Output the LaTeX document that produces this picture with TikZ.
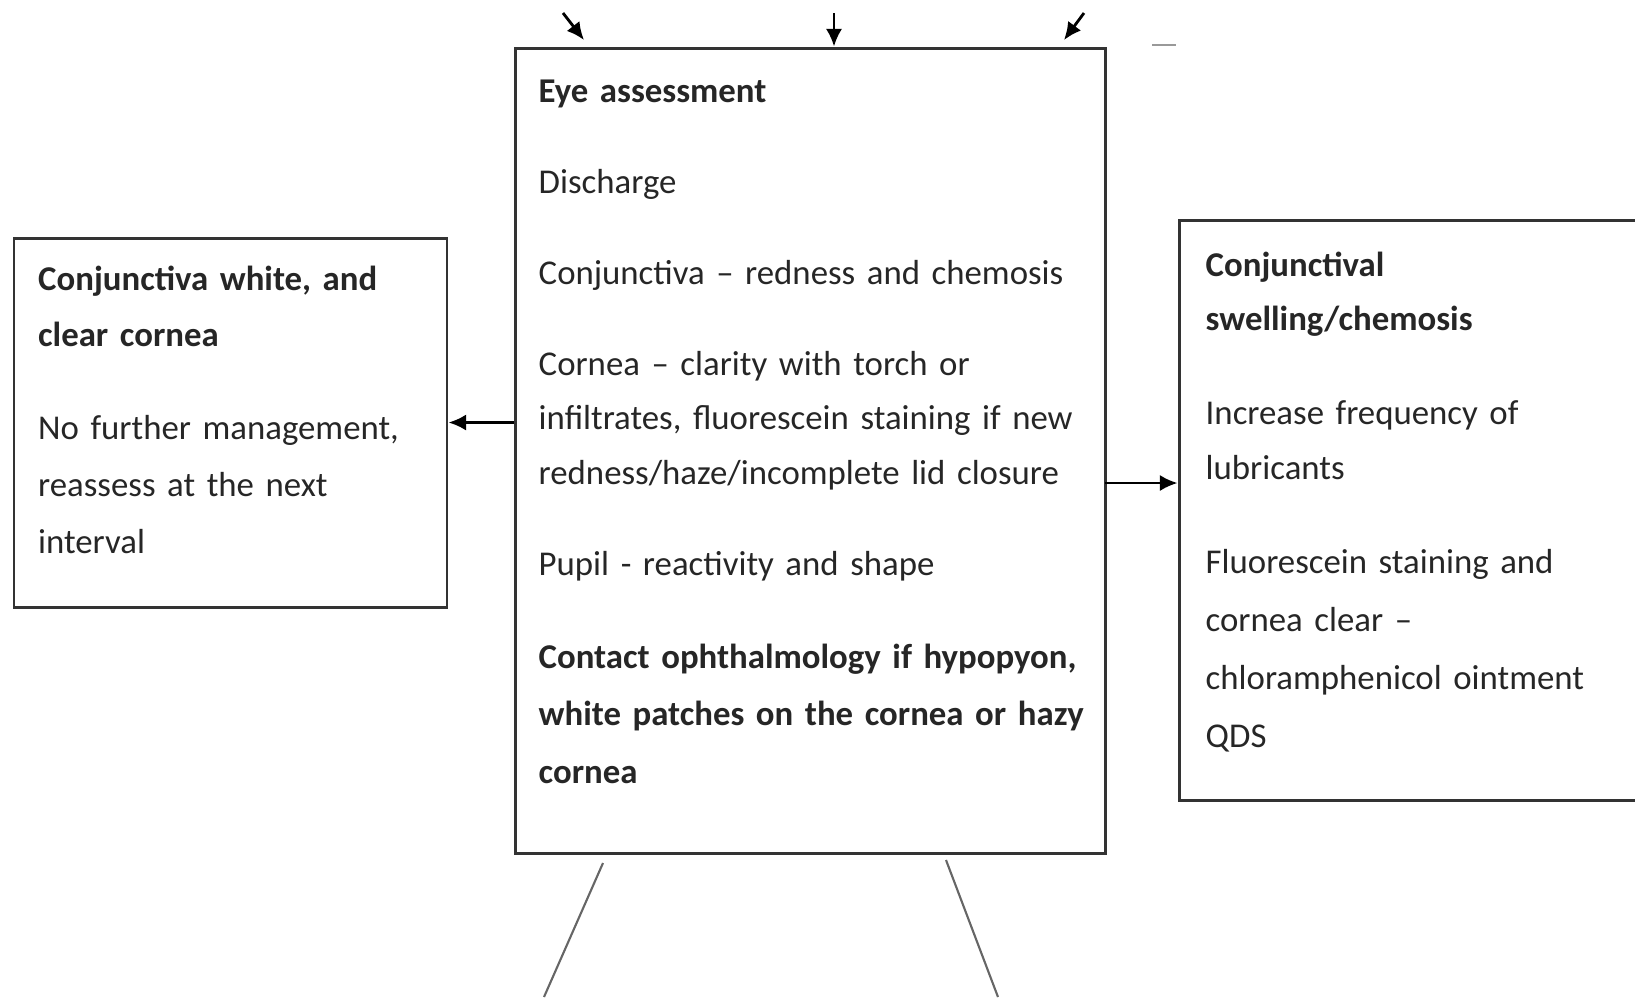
\documentclass[tikz,border=0pt]{standalone}
\usepackage{fontspec}
\setmainfont{Carlito}
\usetikzlibrary{arrows.meta}

\tikzset{
  box/.style={draw=black!80, line width=0.85pt, inner sep=0pt},
  txt/.style={anchor=base west, inner sep=0pt, text width=7cm, align=left,
    font=\fontsize{9.9pt}{15.6pt}\selectfont, text=black!85},
  arr/.style={line width=0.8pt, -{Latex[length=5pt,width=4.6pt]}},
  leg/.style={draw=black!60, line width=0.6pt},
}

\begin{document}
\begin{tikzpicture}[x=0.1mm,y=-0.1mm]
    \useasboundingbox (0,0) rectangle (1635,997);
    \clip (0,0) rectangle (1635,997);

    %boxes
    \node[box, minimum width=59mm, minimum height=80.5mm] (eye) at (810,450.5) {};
    \node[box, minimum width=43.3mm, minimum height=36.9mm] (white) at (230.5,422.5) {};
    \node[box, minimum width=51.1mm, minimum height=58mm] (swell) at (1434.5,510) {};

    %texts
    \node[txt] (eyetxt) at (538,102) {\textbf{Eye assessment}\\[10.3pt]
      Discharge\\[10.3pt]
      Conjunctiva – redness and chemosis\\[10.3pt]
      Cornea – clarity with torch or\\
      infiltrates, fluorescein staining if new\\
      redness/haze/incomplete lid closure\\[10.3pt]
      Pupil - reactivity and shape\\[10.8pt]
      \textbf{Contact ophthalmology if hypopyon,\\[0.7pt]
      white patches on the cornea or hazy\\[0.7pt]
      cornea}};
    \node[txt, font=\fontsize{9.9pt}{16.2pt}\selectfont] (whitetxt) at (37.5,290) {\textbf{Conjunctiva white, and\\
      clear cornea}\\[10.2pt]
      No further management,\\
      reassess at the next\\
      interval};
    \node[txt] (swelltxt) at (1205,276) {\textbf{Conjunctival\\
      swelling/chemosis}\\[11pt]
      Increase frequency of\\
      lubricants\\[11.2pt]
      Fluorescein staining and\\[0.9pt]
      cornea clear –\\[0.9pt]
      chloramphenicol ointment\\[0.9pt]
      QDS};

    %arrows in
    \coordinate (inL) at (563,13); \coordinate (tipL) at (584,40);
    \coordinate (inM) at (834,13);
    \coordinate (inR) at (1084,13); \coordinate (tipR) at (1064,40);
    \draw[arr] (inL) -- (tipL);
    \draw[arr] (inM) -- (inM |- eye.north);
    \draw[arr] (inR) -- (tipR);
    \draw[draw=black!40, line width=0.5pt] (1152,45) -- (1176,45);

    %arrows out
    \draw[arr] (eye.west |- white.east) -- (white.east);
    \coordinate (midR) at (1105,483);
    \draw[arr] (midR) -- (midR -| swell.west);

    %lines down
    \coordinate (outL) at (544,997); \coordinate (outR) at (998,997);
    \draw[leg] (603,863) -- (outL);
    \draw[leg] (946,860) -- (outR);
\end{tikzpicture}
\end{document}
